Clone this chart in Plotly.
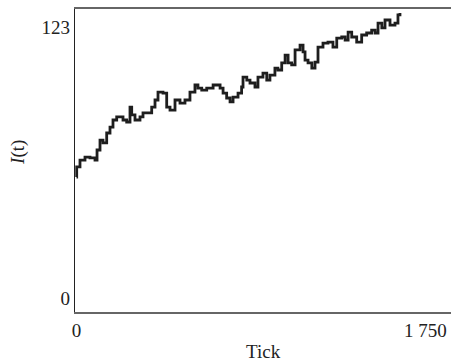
import plotly.graph_objects as go

ticks = [0, 1, 17.5, 42.6, 67.7, 92.8, 103, 117.9, 132.9, 151.4, 168, 183, 201.6, 233.2, 251.7,
         268.3, 276.8, 293.3, 318.4, 333.5, 358.6, 377.1, 393.7, 408.7, 433.8, 452.3, 468.9,
         494, 519, 544, 569, 594, 609, 628, 653, 685, 720, 735, 753, 770, 785, 810, 828, 835,
         854, 870, 895, 910, 935, 954, 970, 995, 1010, 1029, 1046, 1061, 1079, 1096, 1121,
         1136, 1146, 1161, 1180, 1196, 1211, 1236, 1261, 1286, 1305, 1330, 1347, 1362, 1380,
         1405, 1430, 1455, 1480, 1497, 1512, 1531, 1547, 1572, 1597, 1612, 1622]
values = [54.9, 59.5, 62.6, 64.0, 63.6, 62.6, 67.2, 71.7, 70.4, 74.9, 77.6, 80.8, 82.2, 80.8, 79.9,
          86.7, 83.1, 80.8, 82.2, 84.0, 84.0, 86.7, 89.9, 93.5, 93.0, 86.7, 85.3,
          89.9, 88.5, 89.9, 93.5, 96.7, 95.3, 94.4, 95.3, 96.7, 95.3, 93.0, 90.8, 89.0, 91.2, 93.0, 95.8, 100.3,
          98.9, 97.6, 95.8, 100.3, 102.1, 98.9, 101.2, 104.4, 103.5, 106.7, 110.3, 106.7, 105.8, 112.6, 114.8,
          111.7, 108.0, 106.7, 104.4, 107.1, 113.9, 115.7, 116.2, 113.9, 118.0, 118.5, 117.1, 120.7, 118.5,
          116.2, 119.4, 120.3, 121.6, 120.3, 124.8, 122.6, 126.2, 123.9, 124.8, 128.5, 129.4]

x_tickvals = [0, 1750]
x_ticktext = ["0", "1 750"]
y_tickvals = [0, 123]
y_ticktext = ["0", "123"]

font = "Liberation Serif"

fig = go.Figure()
fig.add_trace(go.Scatter(x=ticks, y=values, mode="lines",
                         line=dict(color="#1e1e1e", width=2.8, shape="hv"),
                         showlegend=False, hoverinfo="skip"))

W = 458
fig.update_layout(
    width=W, height=363,
    margin=dict(l=75, r=0, t=9, b=51),
    paper_bgcolor="white", plot_bgcolor="white",
    font=dict(family=font, size=19, color="#222"),
    xaxis=dict(range=[-7.5, 1913], tickvals=x_tickvals, ticktext=x_ticktext,
               showgrid=False, zeroline=False, showline=True, linecolor="#666",
               linewidth=1.5, mirror=True, ticks="", automargin=False,
               tickfont=dict(family=font, size=19, color="#222")),
    yaxis=dict(range=[-6.35, 131.2], tickvals=y_tickvals, ticktext=y_ticktext,
               showgrid=False, zeroline=False, showline=True, linecolor="#222",
               linewidth=1.2, ticks="", automargin=False,
               tickfont=dict(family=font, size=19, color="#222")),
    annotations=[
        dict(text="Tick", xref="paper", yref="paper", x=(263 - 75) / (W - 75), y=-0.132,
             xanchor="center", yanchor="middle", showarrow=False,
             font=dict(family=font, size=19, color="#222")),
        dict(text="<i>I</i>(t)", xref="paper", yref="paper", x=(18 - 75) / (W - 75), y=0.525,
             xanchor="center", yanchor="middle", textangle=-90, showarrow=False,
             font=dict(family=font, size=19, color="#222")),
    ],
)

fig.write_html("out.html", config={"displayModeBar": False},
               post_script="document.body.style.margin='0';document.body.style.overflow='hidden';")
